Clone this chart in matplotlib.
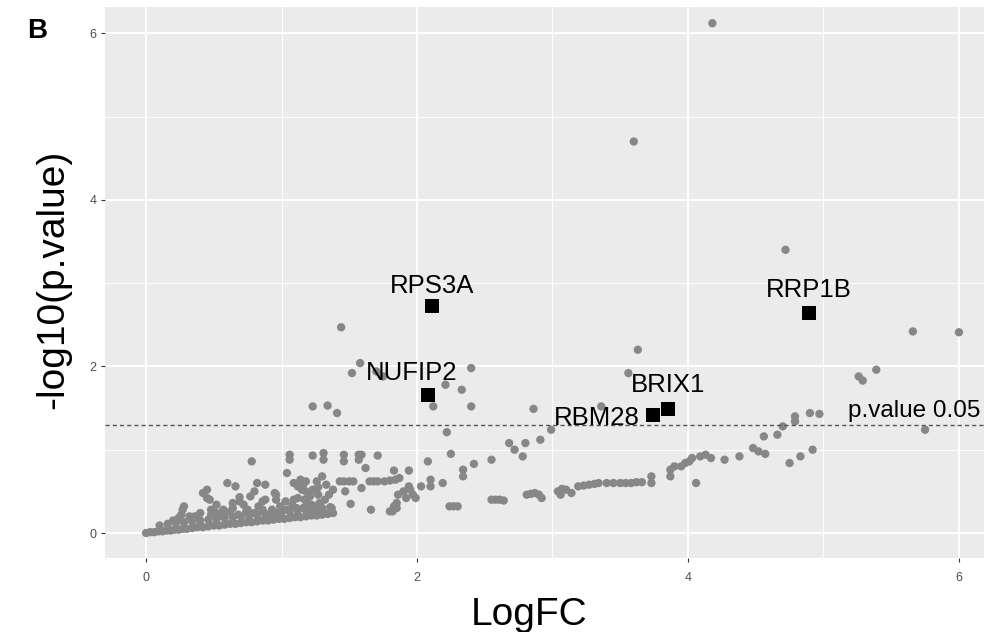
import matplotlib
matplotlib.use("Agg")
import numpy as np
import matplotlib.pyplot as plt

plt.rcParams['font.family'] = ['Liberation Sans', 'DejaVu Sans']

# ---------------- data ----------------
genes = ["RPS3A", "NUFIP2", "RBM28", "BRIX1", "RRP1B"]
gene_logfc = [2.11, 2.08, 3.74, 3.85, 4.89]
gene_neglogp = [2.72, 1.66, 1.42, 1.49, 2.64]

threshold_p = 0.05
threshold_label = "p.value 0.05"

x_ticks = [0, 2, 4, 6]
y_ticks = [0, 2, 4, 6]

high_points = [
    (4.18, 6.12), (3.60, 4.70), (4.72, 3.40), (1.44, 2.47), (5.66, 2.42), (6.00, 2.41),
    (3.63, 2.20), (1.58, 2.04), (1.52, 1.92), (1.70, 1.94), (1.75, 1.88), (3.56, 1.92),
    (5.39, 1.96), (5.26, 1.88), (5.29, 1.83), (2.21, 1.78), (2.33, 1.72), (2.40, 1.98),
    (1.23, 1.52), (1.34, 1.53), (1.41, 1.44), (2.12, 1.52), (2.40, 1.52), (2.86, 1.49),
    (3.36, 1.52), (4.90, 1.44), (4.97, 1.43), (4.79, 1.40), (5.75, 1.24),
]

right_arm = [
    (2.22, 1.21), (2.99, 1.24), (2.91, 1.12), (2.80, 1.08), (2.68, 1.08), (2.72, 1.00),
    (2.78, 0.92), (4.79, 1.34), (4.70, 1.28), (4.66, 1.18), (4.56, 1.16), (4.48, 1.02),
    (4.52, 0.98), (4.57, 0.95), (4.75, 0.84), (4.83, 0.92), (4.92, 1.00), (4.38, 0.92),
    (4.27, 0.88), (4.17, 0.90), (4.13, 0.94), (4.09, 0.92), (4.03, 0.90), (4.01, 0.86),
    (3.98, 0.84), (3.95, 0.80), (3.90, 0.80), (3.87, 0.76), (3.87, 0.68), (3.73, 0.68),
    (3.73, 0.60), (4.06, 0.60),
    (3.04, 0.50), (3.07, 0.53), (3.10, 0.52), (3.14, 0.48), (3.06, 0.46), (3.19, 0.56),
    (3.23, 0.57), (3.27, 0.58), (3.31, 0.59), (3.34, 0.60), (3.40, 0.60), (3.45, 0.60),
    (3.50, 0.60), (3.54, 0.60), (3.58, 0.60), (3.62, 0.61), (3.66, 0.61),
    (2.81, 0.46), (2.84, 0.47), (2.87, 0.48), (2.90, 0.46), (2.92, 0.42), (2.55, 0.40),
    (2.58, 0.40), (2.61, 0.40), (2.64, 0.39), (2.24, 0.32), (2.27, 0.32), (2.30, 0.32),
    (2.25, 0.95), (2.42, 0.83), (2.55, 0.88), (2.34, 0.76), (2.34, 0.68), (2.19, 0.60),
    (2.08, 0.86),
]

mid_cloud = [
    (1.23, 0.93), (1.31, 0.96), (1.31, 0.88), (1.46, 0.94), (1.46, 0.86), (1.57, 0.94),
    (1.57, 0.88), (1.59, 0.94), (1.71, 0.93), (1.62, 0.78), (1.83, 0.75), (1.94, 0.75),
    (1.30, 0.68), (1.06, 0.94), (1.06, 0.88), (0.78, 0.86), (1.04, 0.72),
    (1.43, 0.62), (1.46, 0.62), (1.50, 0.62), (1.53, 0.62), (1.65, 0.62), (1.68, 0.62),
    (1.71, 0.62), (1.76, 0.62), (1.80, 0.63), (1.84, 0.64), (1.87, 0.66),
    (1.59, 0.54), (2.03, 0.56), (2.10, 0.64), (2.10, 0.56), (1.94, 0.56), (1.95, 0.52),
    (1.90, 0.50), (1.86, 0.46), (1.97, 0.46), (1.99, 0.42), (1.92, 0.42), (1.85, 0.36),
    (1.83, 0.32), (1.85, 0.30), (1.80, 0.26), (1.82, 0.26), (1.51, 0.35), (1.66, 0.28),
    (1.47, 0.50), (1.38, 0.52), (1.16, 0.58), (1.23, 0.52), (1.27, 0.46), (1.32, 0.40),
    (1.37, 0.30), (1.25, 0.30), (1.19, 0.24), (1.21, 0.44), (1.28, 0.36), (1.22, 0.34),
    (1.30, 0.26), (1.35, 0.24), (1.17, 0.40), (1.14, 0.64), (1.26, 0.62), (1.33, 0.58),
    (1.35, 0.46), (1.27, 0.55), (1.18, 0.62),
]

low_cloud = [
    (0.60, 0.60), (0.66, 0.56), (0.82, 0.60), (0.88, 0.58), (0.80, 0.50), (0.95, 0.48),
    (0.45, 0.52), (0.45, 0.42), (0.42, 0.48), (0.69, 0.43), (0.69, 0.38), (1.09, 0.60),
    (1.12, 0.56), (1.15, 0.52), (1.18, 0.50), (0.28, 0.32), (0.26, 0.22), (0.27, 0.28),
    (0.32, 0.20), (0.48, 0.22), (0.48, 0.28), (0.88, 0.40), (0.96, 0.40), (1.03, 0.38),
    (0.83, 0.32), (0.75, 0.28), (0.64, 0.30), (0.58, 0.26), (0.72, 0.34), (0.93, 0.28),
    (1.11, 0.30), (1.19, 0.36), (1.12, 0.42), (1.04, 0.28), (0.47, 0.40), (0.52, 0.34),
    (0.57, 0.28), (0.64, 0.36), (0.77, 0.44), (0.86, 0.38), (0.96, 0.46), (0.99, 0.32),
    (1.09, 0.40), (1.20, 0.44), (1.26, 0.32),
]

band_logfc = [0.00, 0.03, 0.06, 0.09, 0.12, 0.15, 0.18, 0.21, 0.24, 0.27, 0.30, 0.34,
              0.38, 0.42, 0.46, 0.50, 0.54, 0.58, 0.62, 0.66, 0.70, 0.74, 0.78, 0.82,
              0.86, 0.90, 0.94, 0.98, 1.02, 1.06, 1.10, 1.14, 1.18, 1.22, 1.26, 1.30,
              1.34, 1.38,
              0.10, 0.16, 0.22, 0.28, 0.34, 0.40, 0.46, 0.52, 0.58, 0.64, 0.70, 0.76,
              0.82, 0.88, 0.94, 1.00, 1.06, 1.12, 1.18, 1.24, 1.30, 1.36,
              0.20, 0.24, 0.36, 0.40, 0.52, 0.56, 0.62, 0.68, 0.74, 0.80, 0.86, 0.92,
              0.98, 1.08, 1.16, 1.28]
band_neglogp = [0.00, 0.01, 0.01, 0.02, 0.02, 0.03, 0.03, 0.04, 0.04, 0.05, 0.05, 0.06,
                0.07, 0.07, 0.08, 0.09, 0.09, 0.10, 0.11, 0.11, 0.12, 0.13, 0.13, 0.14,
                0.15, 0.15, 0.16, 0.17, 0.17, 0.18, 0.19, 0.19, 0.20, 0.21, 0.21, 0.22,
                0.23, 0.24,
                0.09, 0.11, 0.12, 0.13, 0.14, 0.15, 0.16, 0.17, 0.18, 0.19, 0.20, 0.21,
                0.22, 0.23, 0.24, 0.25, 0.26, 0.27, 0.28, 0.29, 0.30, 0.31,
                0.15, 0.18, 0.20, 0.24, 0.24, 0.21, 0.25, 0.22, 0.26, 0.24, 0.28, 0.22,
                0.25, 0.33, 0.30, 0.34]

# ---------------- figure ----------------
W, H = 984, 632
fig = plt.figure(figsize=(W / 100, H / 100), dpi=100)
ax = fig.add_axes([105 / W, 1 - 558 / H, (W - 105) / W, (558 - 7) / H])
ax.set_facecolor('#EBEBEB')
for s in ax.spines.values():
    s.set_visible(False)

ax.set_xlim(-0.303, 6.185)
ax.set_ylim(-0.300, 6.315)
ax.set_xticks(x_ticks)
ax.set_yticks(y_ticks)
ax.set_xticks([1, 3, 5], minor=True)
ax.set_yticks([1, 3, 5], minor=True)
ax.grid(which='major', color='white', linewidth=1.4)
ax.grid(which='minor', color='white', linewidth=0.7)
ax.set_axisbelow(True)
ax.tick_params(which='major', length=2.75, width=0.8, color='#333333',
               labelsize=9, labelcolor='#4D4D4D')
ax.tick_params(axis='x', which='major', pad=7.5)
ax.tick_params(axis='y', which='major', pad=3.5)
ax.tick_params(which='minor', length=0)

grey = '#878787'
dot_size = 36
for grp in (high_points, right_arm, mid_cloud, low_cloud):
    xs, ys = zip(*grp)
    ax.scatter(xs, ys, s=dot_size, color=grey, edgecolors='none', zorder=2)
ax.scatter(band_logfc, band_neglogp, s=dot_size, color=grey, edgecolors='none', zorder=2)

thr = -np.log10(threshold_p)
ax.axhline(thr, color='#555555', linewidth=1.0, linestyle=(0, (3.0, 2.2)), zorder=2.5)

ax.scatter(gene_logfc, gene_neglogp, marker='s', s=100, color='black', zorder=3,
           linewidths=0)

offsets = {"RPS3A": (0, 15), "NUFIP2": (-12, 16), "RBM28": (-40, -2),
           "BRIX1": (0, 17), "RRP1B": (0, 17)}
for g, x, y in zip(genes, gene_logfc, gene_neglogp):
    ax.annotate(g, (x, y), xytext=offsets[g], textcoords='offset points',
                ha='center', va='center', fontsize=18.5, color='black', zorder=4)

ax.annotate(threshold_label, (5.18, thr), xytext=(0, 10), textcoords='offset points',
            ha='left', va='center', fontsize=17.5, color='black', zorder=4)

fig.text(529 / W, 1 - 625 / H, "LogFC", ha='center', va='baseline', fontsize=28)
fig.text(53 / W, 1 - 279 / H, "-log10(p.value)", ha='center', va='center',
         rotation=90, fontsize=28)
fig.text(37 / W, 1 - 31 / H, "B", ha='center', va='center', fontsize=20,
         fontweight='bold')

fig.savefig('out.png', dpi=100)
